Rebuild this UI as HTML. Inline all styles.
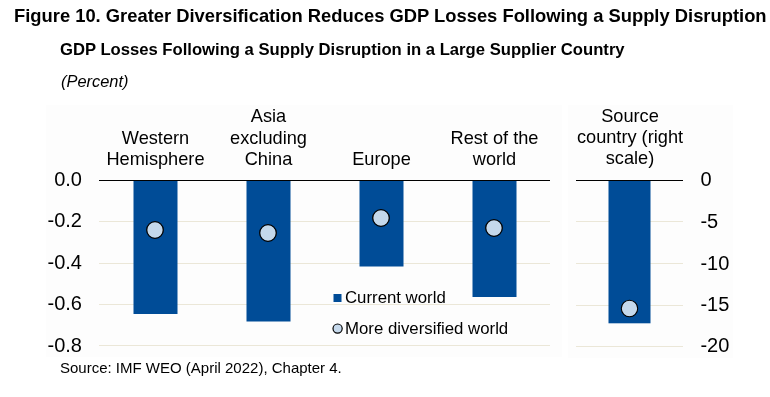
<!DOCTYPE html>
<html><head><meta charset="utf-8">
<style>
html,body{margin:0;padding:0;background:#fff;width:770px;height:397px;overflow:hidden}
svg{display:block;will-change:transform;font-family:"Liberation Sans",sans-serif}
</style></head>
<body>
<svg width="770" height="397" viewBox="0 0 770 397">
<rect x="0" y="0" width="770" height="397" fill="#fff"/>
<!-- panel backgrounds -->
<rect x="46" y="105" width="516" height="252" fill="#fdfdfd"/>
<rect x="568" y="105" width="165" height="253" fill="#fdfdfd"/>

<!-- titles -->
<text x="14" y="22" font-size="18.37" font-weight="bold" fill="#000">Figure 10. Greater Diversification Reduces GDP Losses Following a Supply Disruption</text>
<text x="60" y="55" font-size="16.65" font-weight="bold" fill="#000">GDP Losses Following a Supply Disruption in a Large Supplier Country</text>
<text x="61" y="87" font-size="16.4" font-style="italic" fill="#000">(Percent)</text>

<!-- gridlines left -->
<g fill="#ebe7d8">
<rect x="99" y="221" width="451" height="1"/>
<rect x="99" y="263" width="451" height="1"/>
<rect x="99" y="304" width="451" height="1"/>
<rect x="99" y="345" width="451" height="1"/>
<rect x="576" y="221" width="107" height="1"/>
<rect x="576" y="263" width="107" height="1"/>
<rect x="576" y="305" width="107" height="1"/>
<rect x="576" y="346" width="107" height="1"/>
</g>

<!-- bars -->
<g fill="#004c97">
<rect x="133.5" y="180" width="44" height="134"/>
<rect x="246.5" y="180" width="44" height="141.5"/>
<rect x="359.5" y="180" width="44" height="86.5"/>
<rect x="472.5" y="180" width="44" height="117"/>
<rect x="608.5" y="180" width="42" height="143.3"/>
</g>

<!-- axis lines -->
<rect x="99" y="180" width="451" height="1" fill="#000"/>
<rect x="576" y="180" width="107" height="1" fill="#000"/>

<!-- markers -->
<g fill="#c4d8eb" stroke="#000" stroke-width="1.3">
<circle cx="155" cy="230" r="8.3"/>
<circle cx="268" cy="233" r="8.3"/>
<circle cx="381" cy="218" r="8.3"/>
<circle cx="494" cy="228" r="8.3"/>
<circle cx="629.5" cy="308.5" r="8.2" stroke-width="1.1"/>
</g>

<!-- category labels -->
<g font-size="18.2" fill="#000" text-anchor="middle">
<text x="155.5" y="144">Western</text>
<text x="155.5" y="165">Hemisphere</text>
<text x="268.5" y="122">Asia</text>
<text x="268.5" y="143.5">excluding</text>
<text x="268.5" y="164.5">China</text>
<text x="381.5" y="165">Europe</text>
<text x="494.5" y="143.5">Rest of the</text>
<text x="494.5" y="164.5">world</text>
<text x="630" y="121.5">Source</text>
<text x="630" y="143">country (right</text>
<text x="630" y="164">scale)</text>
</g>

<!-- y-axis left -->
<g font-size="20" fill="#000" text-anchor="end">
<text x="82" y="185.5">0.0</text>
<text x="82" y="227">-0.2</text>
<text x="82" y="268.5">-0.4</text>
<text x="82" y="310">-0.6</text>
<text x="82" y="351.5">-0.8</text>
</g>
<!-- y-axis right -->
<g font-size="20" fill="#000" transform="translate(0.4,0)">
<text x="700" y="185.5">0</text>
<text x="700" y="227.5">-5</text>
<text x="700" y="269.5">-10</text>
<text x="700" y="310.5">-15</text>
<text x="700" y="352">-20</text>
</g>

<!-- legend -->
<rect x="333.5" y="294" width="8" height="8" fill="#004c97"/>
<text x="345" y="303" font-size="16.8" fill="#000">Current world</text>
<circle cx="337.6" cy="328.6" r="4.6" fill="#c6d9ec" stroke="#000" stroke-width="1.2"/>
<text x="345" y="333.5" font-size="16.8" fill="#000">More diversified world</text>

<!-- source -->
<text x="60" y="373.1" font-size="15" fill="#000">Source: IMF WEO (April 2022), Chapter 4.</text>
</svg>
</body></html>
